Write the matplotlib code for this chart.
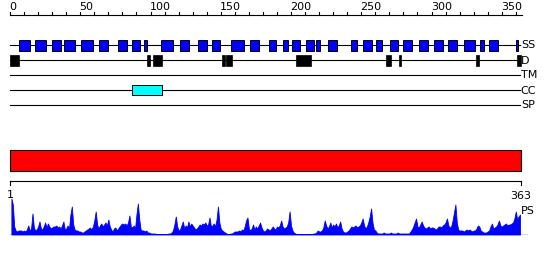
import matplotlib.pyplot as plt
import numpy as np

# sequence length and ruler ticks
seq_len = 363
ruler_ticks = list(range(0, 361, 10))
ruler_labels = [0, 50, 100, 150, 200, 250, 300, 350]

# track names (top to bottom)
tracks = ["SS", "D", "TM", "CC", "SP"]

# secondary structure segments (start, end)
ss_segments = [
    (6.6, 14.2), (17.8, 25.4), (30.1, 36.1), (38.4, 46.0), (50.5, 58.9),
    (63.6, 70.0), (77.1, 83.1), (87.0, 92.3), (95.4, 97.7), (107.7, 115.8),
    (121.0, 127.2), (134.0, 140.0), (144.0, 149.7), (157.5, 166.3), (171.0, 177.0),
    (184.6, 189.0), (194.5, 198.1), (200.9, 206.6), (210.9, 216.5), (217.8, 220.6),
    (226.5, 233.0), (242.5, 247.3), (250.9, 257.4), (260.5, 264.6), (270.5, 276.4),
    (279.9, 285.9), (291.1, 297.3), (302.0, 308.0), (311.9, 317.9), (322.9, 331.2),
    (334.7, 337.1), (340.9, 347.1), (359.9, 361.8),
]

# disordered segments
d_segments = [
    (0.0, 6.4), (97.5, 99.6), (102.0, 108.2), (150.9, 153.0), (153.7, 158.0),
    (203.3, 214.0), (267.6, 271.2), (276.9, 278.1), (331.7, 334.0), (361.1, 363.5),
]

# coiled coil segments
cc_segments = [(87.0, 108.0)]

# profile values, residues 1..363
profile = [
    36, 30, 8, 4, 3, 4, 4, 4, 3, 4,
    3, 5, 9, 4, 6, 21, 7, 4, 5, 8,
    13, 6, 5, 8, 12, 7, 11, 8, 6, 7,
    8, 8, 9, 7, 8, 6, 9, 13, 5, 6,
    9, 6, 20, 28, 10, 5, 4, 4, 3, 3,
    2, 2, 3, 4, 5, 6, 7, 5, 8, 14,
    23, 10, 6, 9, 11, 8, 10, 12, 9, 15,
    8, 5, 3, 6, 7, 4, 6, 8, 10, 11,
    10, 11, 9, 12, 19, 8, 7, 9, 6, 20,
    31, 15, 5, 4, 4, 3, 4, 2, 2, 1,
    1, 1, 1, 0.5, 0.5, 0.5, 0.5, 0.5, 0.5, 0.5,
    0.5, 0.5, 1, 1, 2, 4, 10, 18, 8, 4,
    5, 9, 13, 6, 9, 7, 13, 8, 11, 9,
    7, 5, 6, 8, 10, 9, 11, 10, 12, 9,
    10, 17, 8, 9, 11, 8, 15, 28, 12, 6,
    4, 3, 2, 1, 0.5, 0.5, 1, 1, 2, 3,
    3, 3, 4, 3, 5, 4, 8, 14, 17, 6,
    4, 6, 10, 5, 8, 6, 9, 12, 7, 4,
    3, 4, 6, 5, 4, 6, 8, 6, 5, 8,
    7, 9, 14, 8, 6, 7, 8, 12, 23, 9,
    4, 2, 1, 0.5, 0.5, 0.5, 0.5, 0.5, 0.5, 0.5,
    0.5, 0.5, 0.5, 0.5, 0.5, 1, 1, 2, 4, 3,
    3, 4, 7, 14, 9, 6, 8, 12, 7, 10,
    8, 11, 7, 9, 13, 6, 3, 2, 2, 3,
    4, 6, 8, 7, 8, 9, 7, 8, 9, 12,
    16, 9, 6, 8, 12, 18, 26, 12, 5, 4,
    2, 1, 1, 1, 1, 2, 1, 1, 1, 1,
    2, 1, 1, 1, 1, 2, 1, 1, 1, 1,
    1, 1, 1, 1, 3, 5, 8, 12, 16, 8,
    7, 10, 13, 9, 7, 6, 7, 8, 6, 7,
    7, 6, 5, 6, 8, 8, 7, 9, 10, 12,
    16, 9, 7, 8, 14, 22, 30, 12, 5, 4,
    4, 4, 3, 4, 5, 4, 5, 4, 3, 4,
    4, 6, 9, 8, 4, 3, 2, 2, 2, 3,
    4, 8, 11, 6, 7, 8, 10, 14, 9, 8,
    9, 10, 11, 9, 10, 10, 11, 12, 16, 23,
    15, 18, 20,
]

px = 1.405  # pixels per residue
W, H = 550, 260
x_lo = -10 / px
x_hi = (W - 10) / px

fig = plt.figure(figsize=(W / 100, H / 100), dpi=100)
ax = fig.add_axes([0, 0, 1, 1])
ax.set_xlim(x_lo, x_hi)
ax.set_ylim(H, 0)
ax.axis("off")

lw = 0.8
fs = 8

# top ruler
ax.plot([0, 364.5], [15, 15], color="black", lw=lw)
for t in ruler_ticks:
    ax.plot([t, t], [12, 15], color="black", lw=lw)
for t in ruler_labels:
    ax.text(t - 0.5, 10.5, str(t), fontsize=fs, ha="left", va="baseline")

# tracks
track_y = [45, 60, 75, 90, 105]
for name, y in zip(tracks, track_y):
    ax.plot([0, 363], [y, y], color="black", lw=lw, zorder=1)
    ax.text(363.6, y + 0.5, name, fontsize=fs, ha="left", va="center")

for s, e in ss_segments:
    ax.add_patch(plt.Rectangle((s, 40), e - s, 10.5, facecolor="#0000ff",
                               edgecolor="black", lw=0.7, zorder=2))
for s, e in d_segments:
    ax.add_patch(plt.Rectangle((s, 54.5), e - s, 11, facecolor="black",
                               edgecolor="black", lw=0.5, zorder=2))
for s, e in cc_segments:
    ax.add_patch(plt.Rectangle((s, 85.3), e - s, 10, facecolor="cyan",
                               edgecolor="black", lw=0.7, zorder=2))

# red bar
ax.add_patch(plt.Rectangle((0, 150), seq_len + 0.5, 20.5, facecolor="#ff0000",
                           edgecolor="black", lw=0.8))

# bottom ruler
ax.plot([0, seq_len + 0.5], [180.7, 180.7], color="black", lw=lw)
ax.plot([0, 0], [180.7, 185], color="black", lw=lw)
ax.plot([seq_len + 0.5, seq_len + 0.5], [180.7, 185], color="black", lw=lw)
ax.text(0, 195, "1", fontsize=fs, ha="center", va="center")
ax.text(seq_len + 0.5, 196, "363", fontsize=fs, ha="center", va="center")
ax.text(363.6, 210.5, "PS", fontsize=fs, ha="left", va="center")

# profile
base = 234.5
axp = fig.add_axes([0, (H - base) / H, 1, 40 / H])
axp.set_xlim(x_lo, x_hi)
axp.set_ylim(0, 40)
axp.axis("off")
res = np.arange(1, seq_len + 1)
axp.fill_between(res, 0, profile, color="#0000ff", lw=0.6)
axp.plot([0, 368], [0, 0], color="#0000ff", lw=1)

fig.savefig("out.png", dpi=100)
